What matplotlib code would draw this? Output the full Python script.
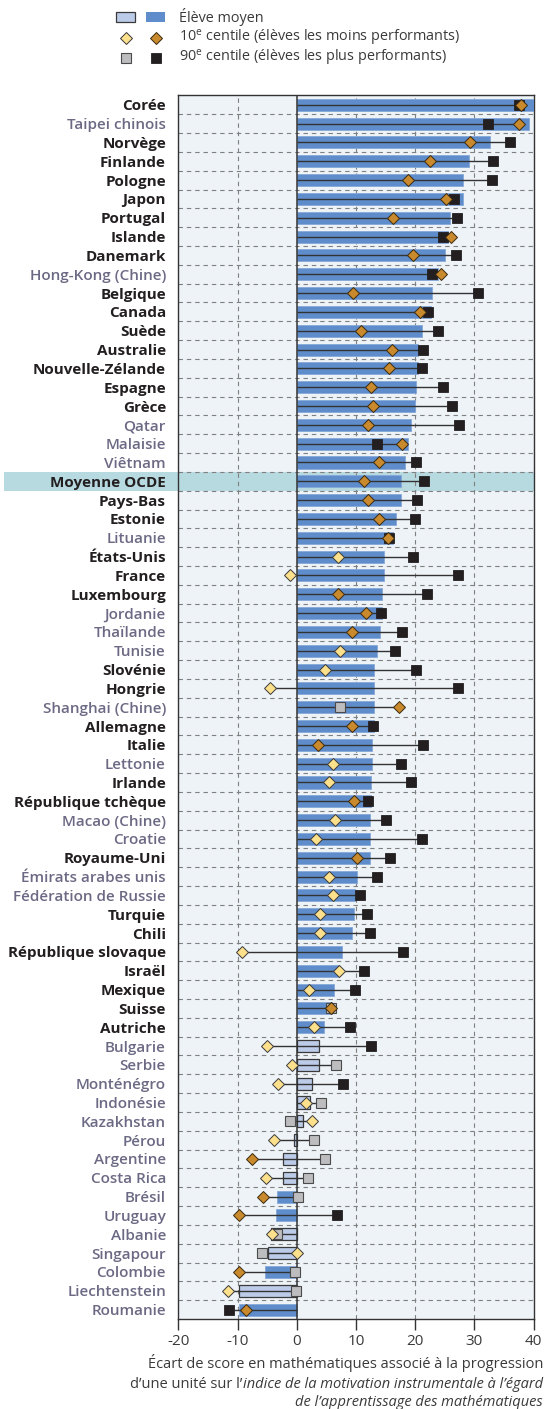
import numpy as np
import matplotlib
matplotlib.use("Agg")
import matplotlib.pyplot as plt
from matplotlib.patches import Rectangle
from matplotlib import transforms

plt.rcParams['font.family'] = ['Open Sans', 'DejaVu Sans']
plt.rcParams['axes.unicode_minus'] = False
plt.rcParams['mathtext.fontset'] = 'custom'
plt.rcParams['mathtext.rm'] = 'Open Sans'
plt.rcParams['mathtext.it'] = 'Open Sans:italic'
plt.rcParams['mathtext.bf'] = 'Open Sans:bold'

#
# data
#
countries = ["Corée", "Taipei chinois", "Norvège", "Finlande", "Pologne", "Japon",
             "Portugal", "Islande", "Danemark", "Hong-Kong (Chine)", "Belgique", "Canada",
             "Suède", "Australie", "Nouvelle-Zélande", "Espagne", "Grèce", "Qatar",
             "Malaisie", "Viêtnam", "Moyenne OCDE", "Pays-Bas", "Estonie", "Lituanie",
             "États-Unis", "France", "Luxembourg", "Jordanie", "Thaïlande", "Tunisie",
             "Slovénie", "Hongrie", "Shanghai (Chine)", "Allemagne", "Italie", "Lettonie",
             "Irlande", "République tchèque", "Macao (Chine)", "Croatie", "Royaume-Uni",
             "Émirats arabes unis", "Fédération de Russie", "Turquie", "Chili",
             "République slovaque", "Israël", "Mexique", "Suisse", "Autriche", "Bulgarie",
             "Serbie", "Monténégro", "Indonésie", "Kazakhstan", "Pérou", "Argentine",
             "Costa Rica", "Brésil", "Uruguay", "Albanie", "Singapour", "Colombie",
             "Liechtenstein", "Roumanie"]

# 1 = OCDE (dark bold label), 0 = partenaire (grey label)
oecd = [1, 0, 1, 1, 1, 1, 1, 1, 1, 0, 1, 1, 1, 1, 1, 1, 1, 0, 0, 0,
        1, 1, 1, 0, 1, 1, 1, 0, 0, 0, 1, 1, 0, 1, 1, 0, 1, 1, 0, 0,
        1, 0, 0, 1, 1, 1, 1, 1, 1, 1, 0, 0, 0, 0, 0, 0, 0, 0, 0, 0,
        0, 0, 0, 0, 0]

# average student
mean = [40.5, 39.2, 32.6, 29.0, 28.1, 28.0, 25.9, 25.6, 25.0, 23.9,
        22.9, 22.6, 21.1, 20.5, 20.4, 20.1, 19.9, 19.3, 18.7, 18.3,
        17.6, 17.6, 16.7, 16.2, 14.8, 14.8, 14.4, 14.4, 14.0, 13.6,
        13.1, 13.1, 13.0, 13.0, 12.7, 12.7, 12.6, 12.6, 12.4, 12.3,
        12.3, 10.1, 9.8, 9.6, 9.3, 7.7, 7.2, 6.3, 5.9, 4.6,
        3.7, 3.7, 2.5, 2.3, 1.0, -0.5, -2.4, -2.4, -3.4, -3.6,
        -4.3, -4.8, -5.3, -9.7, -9.7]
mean_sig = [1] * 50 + [0, 0, 0, 0, 0, 0, 0, 0, 1, 1, 0, 0, 1, 0, 1]

# 10th percentile
p10 = [37.8, 37.6, 29.2, 22.5, 18.8, 25.2, 16.2, 26.0, 19.6, 24.3,
       9.5, 20.8, 10.9, 16.0, 15.5, 12.6, 12.8, 12.0, 17.8, 13.9,
       11.4, 12.0, 13.8, 15.4, 7.0, -1.2, 7.0, 11.7, 9.4, 7.3,
       4.7, -4.5, 17.3, 9.4, 3.6, 6.1, 5.4, 9.6, 6.5, 3.3,
       10.2, 5.5, 6.1, 3.9, 3.9, -9.2, 7.2, 2.1, 5.8, 2.9,
       -5.0, -0.8, -3.1, 1.6, 2.6, -3.9, -7.6, -5.2, -5.7, -9.7,
       -4.2, 0.0, -9.7, -11.6, -8.6]
p10_sig = [1, 1, 1, 1, 1, 1, 1, 1, 1, 1, 1, 1, 1, 1, 1, 1, 1, 1, 1, 1,
           1, 1, 1, 1, 0, 0, 1, 1, 1, 0, 0, 0, 1, 1, 1, 0, 0, 1, 0, 0,
           1, 0, 0, 0, 0, 0, 0, 0, 1, 0, 0, 0, 0, 0, 0, 0, 1, 0, 1, 1,
           0, 0, 1, 0, 1]

# 90th percentile
p90 = [37.5, 32.3, 36.0, 33.1, 33.0, 26.6, 27.0, 24.6, 26.8, 22.9,
       30.6, 22.1, 23.9, 21.3, 21.1, 24.6, 26.2, 27.4, 13.5, 20.2,
       21.4, 20.3, 19.9, 15.6, 19.6, 27.3, 21.9, 14.2, 17.8, 16.5,
       20.2, 27.2, 7.3, 12.9, 21.3, 17.6, 19.2, 12.0, 15.1, 21.2,
       15.8, 13.5, 10.7, 11.8, 12.3, 18.0, 11.4, 9.8, 5.7, 8.9,
       12.5, 6.6, 7.8, 4.0, -1.2, 2.9, 4.8, 1.9, 0.2, 6.7,
       -3.3, -5.9, -0.3, -0.1, -11.4]
p90_sig = [1] * 32 + [0] + [1] * 15 + [0, 1, 1, 0, 1, 0, 0, 0, 0, 0, 0, 1,
                                      0, 0, 0, 0, 1]

xticks = [-20, -10, 0, 10, 20, 30, 40]

#
# colours
#
DARK_BAR = "#5f8dcb"
LIGHT_BAR = "#bccbe8"
ORANGE = "#c98a2e"
YELLOW = "#fde08c"
BLACK = "#231f20"
GREY = "#bdbdbf"
TXT_OECD = "#231f20"
TXT_PART = "#6c6984"
BAND = "#b7d9e0"

W, H = 545, 1409


def px(x0, y0, x1, y1):
	# pixel box (top-left origin) -> figure fraction rect
	return [x0 / W, 1 - y1 / H, (x1 - x0) / W, (y1 - y0) / H]


def setup():
	fig = plt.figure(figsize=(W / 100, H / 100), dpi=100)
	ax = fig.add_axes(px(178.4, 95.4, 533.7, 1319))

	n = len(countries)
	y = np.arange(n)
	ax.set_xlim(-20, 40)
	ax.set_ylim(n - 0.5, -0.5)
	ax.set_facecolor("#eef3f8")

	#highlight band for the OECD average
	k = countries.index("Moyenne OCDE")
	tr = transforms.blended_transform_factory(fig.transFigure, ax.transData)
	ax.add_patch(Rectangle((4 / W, k - 0.5), (533.7 - 4) / W, 1.0, transform=tr,
	                       facecolor=BAND, edgecolor="none", clip_on=False, zorder=0.8))

	#grid
	for v in [-10, 10, 20, 30]:
		ax.axvline(v, color="#808080", lw=0.8, ls=(0, (4, 3.5)), zorder=1)
	for r in range(n - 1):
		ax.axhline(r + 0.5, color="#808080", lw=0.8, ls=(0, (4, 3.5)), zorder=1)

	#bars
	cols = [DARK_BAR if s else LIGHT_BAR for s in mean_sig]
	edges = ["#86a8d8" if s else "#3a3a3a" for s in mean_sig]
	lws = [0.6 if s else 0.9 for s in mean_sig]
	ax.barh(y, mean, height=0.64, color=cols, edgecolor=edges, linewidth=lws, zorder=3)

	ax.axvline(0, color="#333333", lw=1.1, zorder=3.5)

	#range lines
	a10 = np.array(p10)
	a90 = np.array(p90)
	lo = np.minimum(0, np.minimum(a10, a90))
	hi = np.maximum(0, np.maximum(a10, a90))
	ax.hlines(y, lo, hi, color="#333333", lw=1.0, zorder=4)

	#markers: squares first, diamonds on top
	s90 = np.array(p90_sig) == 1
	s10 = np.array(p10_sig) == 1
	ax.plot(a90[s90], y[s90], "s", ms=7, mfc=BLACK, mec=BLACK, mew=0.6, ls="none", zorder=5)
	ax.plot(a90[~s90], y[~s90], "s", ms=7, mfc=GREY, mec="#4a4a4a", mew=0.8, ls="none", zorder=5)
	ax.plot(a10[s10], y[s10], "D", ms=6, mfc=ORANGE, mec="#3a2a10", mew=0.7, ls="none", zorder=6)
	ax.plot(a10[~s10], y[~s10], "D", ms=6, mfc=YELLOW, mec="#3a3a3a", mew=0.7, ls="none", zorder=6)

	#axes styling
	for sp in ax.spines.values():
		sp.set_color("#333333")
		sp.set_linewidth(1.0)
	ax.set_xticks(xticks)
	ax.set_xticklabels([str(t) for t in xticks])
	ax.tick_params(axis="x", direction="out", length=8, width=1, color="#333333",
	               labelsize=11, labelcolor="#3a3a3a", pad=3)
	ax.set_yticks(y)
	ax.set_yticklabels(countries)
	ax.tick_params(axis="y", length=0, pad=9, labelsize=11)
	for lab, o in zip(ax.get_yticklabels(), oecd):
		lab.set_color(TXT_OECD if o else TXT_PART)
		lab.set_fontweight("bold" if o else "semibold")

	#legend, drawn in pixel space
	lg = fig.add_axes([0, 0, 1, 1], zorder=10)
	lg.set_xlim(0, W)
	lg.set_ylim(H, 0)
	lg.axis("off")
	rows = [17, 38, 58]
	lg.add_patch(Rectangle((115.5, rows[0] - 5), 19.5, 10, facecolor=LIGHT_BAR, edgecolor="#3a3a3a", lw=0.9))
	lg.add_patch(Rectangle((145.5, rows[0] - 5), 19.5, 10, facecolor=DARK_BAR, edgecolor="none"))
	lg.plot([126], [rows[1]], "D", ms=6, mfc=YELLOW, mec="#3a3a3a", mew=0.7)
	lg.plot([156], [rows[1]], "D", ms=6, mfc=ORANGE, mec="#3a2a10", mew=0.7)
	lg.plot([126], [rows[2]], "s", ms=7, mfc=GREY, mec="#4a4a4a", mew=0.8)
	lg.plot([156], [rows[2]], "s", ms=7, mfc=BLACK, mec=BLACK, mew=0.6)
	labels = ["Élève moyen",
	          "10$^{\\mathrm{e}}$ centile (élèves les moins performants)",
	          "90$^{\\mathrm{e}}$ centile (élèves les plus performants)"]
	for r, t in zip(rows, labels):
		lg.text(179, r, t, fontsize=10.4, color="#3a3a3a", va="center", ha="left")

	#x axis title, mixed roman / italic
	tc = "#3a3a3a"
	xr = 543
	fs = 10.5
	lg.text(xr, 1363, "Écart de score en mathématiques associé à la progression",
	        fontsize=fs, color=tc, ha="right", va="center")
	it = lg.text(xr, 1384, "indice de la motivation instrumentale à l’égard",
	             fontsize=fs, color=tc, ha="right", va="center", style="italic")
	fig.canvas.draw()
	bb = it.get_window_extent().transformed(lg.transData.inverted())
	lg.text(min(bb.x0, bb.x1), 1384, "d’une unité sur l’", fontsize=fs, color=tc,
	        ha="right", va="center")
	lg.text(xr, 1402, "de l’apprentissage des mathématiques",
	        fontsize=fs, color=tc, ha="right", va="center", style="italic")

	fig.savefig("out.png", dpi=100)


if __name__ == "__main__":
	setup()
